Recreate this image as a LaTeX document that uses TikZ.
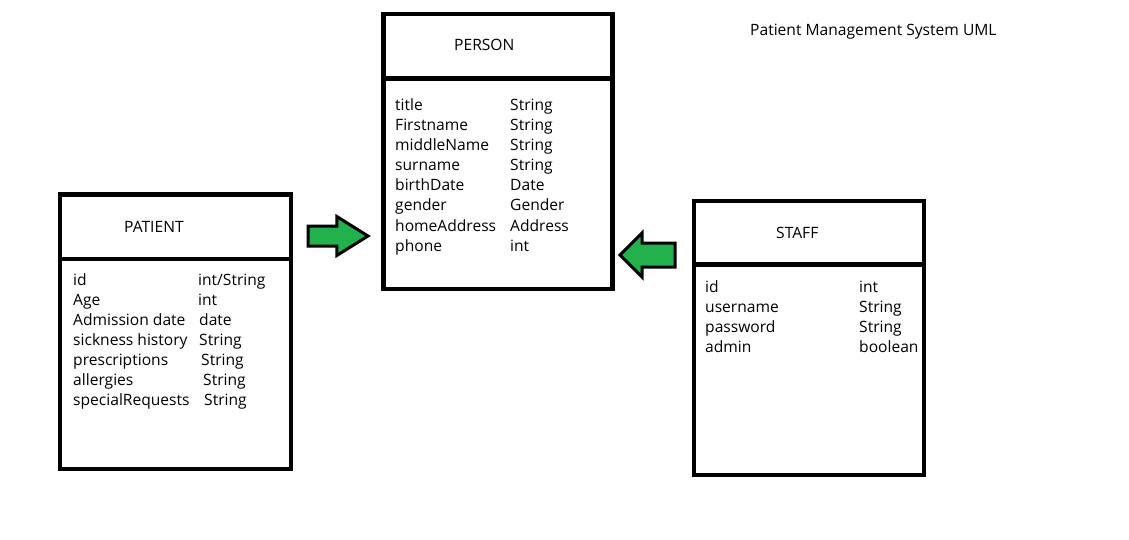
\documentclass[tikz,border=0pt]{standalone}
\usepackage{fontspec}
\setmainfont{Open Sans}
\usepackage{xcolor}
\usetikzlibrary{positioning, shapes.arrows}
\definecolor{paintgreen}{RGB}{34,177,76}

\begin{document}
\begin{tikzpicture}[x=1pt, y=-1pt,
        font=\fontsize{15.6}{18}\selectfont,
        classbox/.style={draw, line width=4.5pt, inner sep=0pt},
        divider/.style={line width=4.5pt},
        attr/.style={anchor=base west, inner sep=0pt},
        greenarrow/.style={single arrow, draw, line width=3pt, fill=paintgreen,
            inner xsep=0pt, single arrow head indent=0pt}]
        \useasboundingbox (0,0) rectangle (1129,540);

        \node[attr] (heading) at (750,35.5) {Patient Management System UML};

        % the three classes
        \node[classbox, minimum width=229, minimum height=275] (person) at (498,151.5) {};
        \node[classbox, minimum width=231, minimum height=274.5] (patient) at (175.5,331.75) {};
        \node[classbox, minimum width=230, minimum height=274] (staff) at (809,338) {};

        \draw[divider] (person.west |- 0,78.5) -- (person.east |- 0,78.5);
        \draw[divider] (patient.west |- 0,259) -- (patient.east |- 0,259);
        \draw[divider] (staff.west |- 0,264.5) -- (staff.east |- 0,264.5);

        \node[attr] (personname) at (454,51) {PERSON};
        \node[attr] (patientname) at (124,232) {PATIENT};
        \node[attr] (staffname) at (776,238) {STAFF};

        \foreach \lbl/\typ [count=\i] in {title/String, Firstname/String,
                middleName/String, surname/String, birthDate/Date,
                gender/Gender, homeAddress/Address, phone/int} {
            \node[attr] (person-n\i) at (395,91+20*\i) {\lbl};
            \node[attr] (person-t\i) at (510,91+20*\i) {\typ};
        }
        \foreach \lbl/\typ/\tx [count=\i] in {id/{int/String}/198, Age/int/198,
                Admission date/date/199, sickness history/String/199,
                prescriptions/String/201, allergies/String/203,
                specialRequests/String/204} {
            \node[attr] (patient-n\i) at (73,265.5+20*\i) {\lbl};
            \node[attr] (patient-t\i) at (\tx,265.5+20*\i) {\typ};
        }
        \foreach \lbl/\typ [count=\i] in {id/int, username/String,
                password/String, admin/boolean} {
            \node[attr] (staff-n\i) at (705,272.5+20*\i) {\lbl};
            \node[attr] (staff-t\i) at (859,272.5+20*\i) {\typ};
        }

        % inheritance arrows
        \node[greenarrow, inner ysep=8.5pt, minimum height=60,
            single arrow head extend=9.5pt, single arrow tip angle=64,
            anchor=tail] (patientarrow) at (306.5,236) {};
        \node[greenarrow, inner ysep=10.5pt, minimum height=55,
            single arrow head extend=10pt, single arrow tip angle=90,
            shape border rotate=180, anchor=tail] (staffarrow) at (676.5,255) {};
    \end{tikzpicture}
\end{document}
